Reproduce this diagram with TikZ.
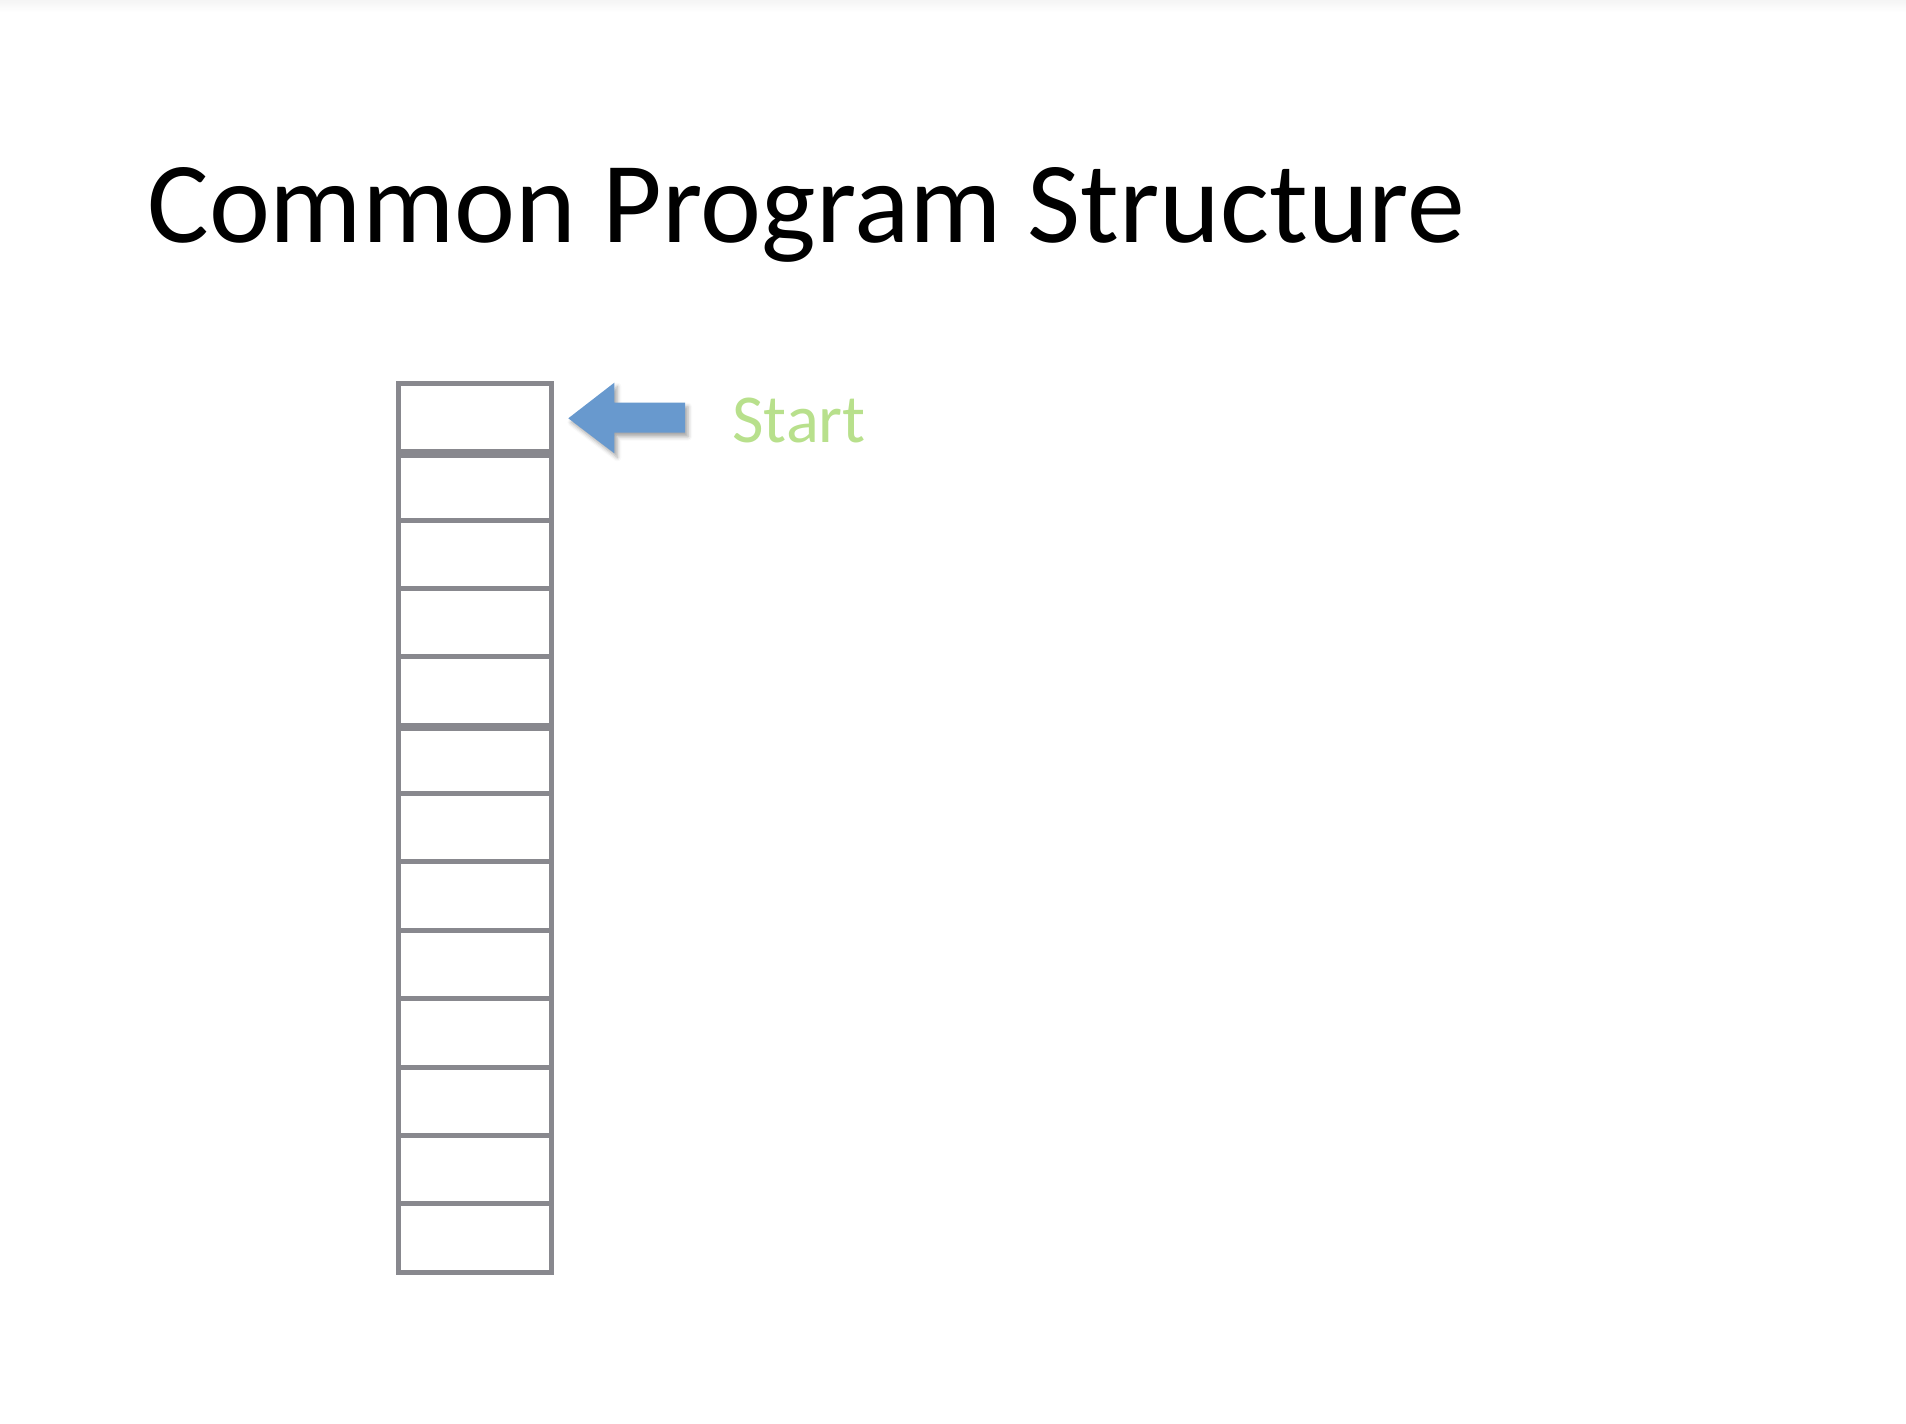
\documentclass[tikz,border=0pt]{standalone}
\usepackage{fontspec}
\setmainfont{Carlito}
\usetikzlibrary{shadows.blur}
\definecolor{cellgray}{HTML}{88888E}
\definecolor{arrowblue}{HTML}{6899CE}
\definecolor{startgreen}{HTML}{B8E08C}
\tikzset{
  cell/.style={draw=cellgray, line width=2.5pt, fill=white, rectangle, inner sep=0pt,
    minimum width=76.25pt, minimum height=34.18pt},
  blockarrow/.style={fill=arrowblue, draw=none,
    blur shadow={shadow xshift=1.5pt, shadow yshift=-2pt, shadow opacity=35, shadow blur radius=2pt}},
}
\begin{document}
\begin{tikzpicture}[x=0.5pt,y=-0.5pt]
\useasboundingbox (0,0) rectangle (1906,1424);
\shade[top color=black!4, bottom color=white, draw=none] (0,0) rectangle (1906,12);
\node[anchor=base west, inner sep=0pt, font=\fontsize{57.8pt}{70pt}\selectfont] (title) at (147,242.7) {Common Program Structure};
% column of cells
\foreach \i in {1,...,13}{
  \pgfmathsetmacro{\cy}{383.5+68.35*(\i-0.5)}
  \node[cell] (c\i) at (474.75,\cy) {};
}
% thicker dividers as in the reference
\draw[cellgray, line width=3.6pt] (c1.south west) -- (c1.south east);
\draw[cellgray, line width=3.6pt] (c5.south west) -- (c5.south east);
% block arrow pointing at the first cell
\coordinate (tip) at (568.3,418.3);
\path[blockarrow] (tip) -- (614.3,382.7) -- (614.3,402.7) -- (685,402.7) -- (685,432.7) -- (614.3,432.7) -- (614.3,453.3) -- cycle;
\node[anchor=base west, inner sep=0pt, text=startgreen, font=\fontsize{34.3pt}{40pt}\selectfont] (start) at (732,442.3) {Start};
\end{tikzpicture}
\end{document}
